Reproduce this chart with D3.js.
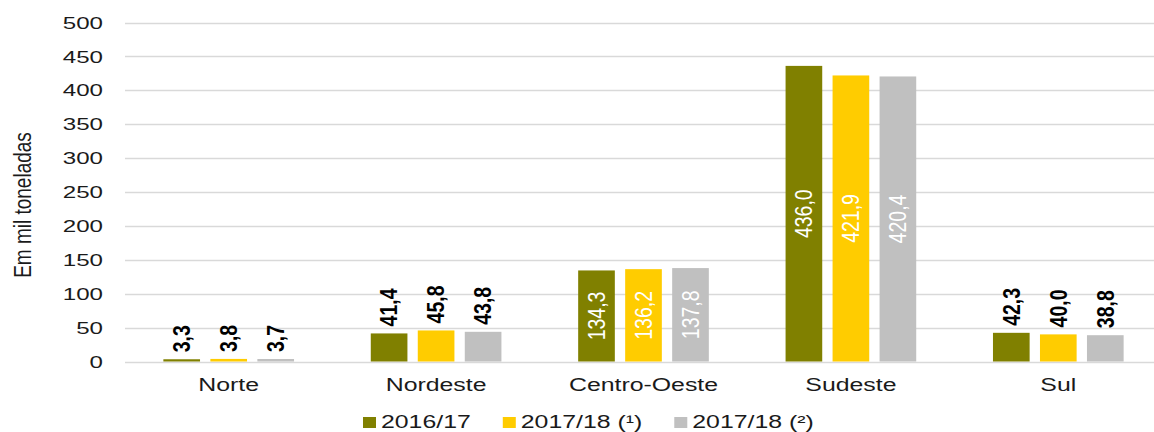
<!DOCTYPE html>
<html>
<head>
<meta charset="utf-8">
<script src="https://cdn.jsdelivr.net/npm/d3@7"></script>
<style>
  html, body { margin: 0; padding: 0; background: #fff; }
  svg { display: block; font-family: "Liberation Sans", Arial, sans-serif; }
</style>
</head>
<body>
<div class="chart"></div>
<script>
// data
const regions = ["Norte", "Nordeste", "Centro-Oeste", "Sudeste", "Sul"]
const series = ["2016/17", "2017/18 (¹)", "2017/18 (²)"]
const v2016 = [3.3, 41.4, 134.3, 436.0, 42.3]
const v2017a = [3.8, 45.8, 136.2, 421.9, 40.0]
const v2017b = [3.7, 43.8, 137.8, 420.4, 38.8]
const yTicks = [0, 50, 100, 150, 200, 250, 300, 350, 400, 450, 500]
const colours = ["#808000", "#ffcc00", "#c0c0c0"]

const width = 1154, height = 432
const sx = 1.42 // glyphs in the source picture are stretched sideways

var svg = d3.select(".chart").append("svg")
  .attr("width", width)
  .attr("height", height)

var allValues = [v2016, v2017a, v2017b]
var rows = regions.map((r, i) => ({
  region: r,
  vals: series.map((s, j) => ({ series: s, value: allValues[j][i], idx: j }))
}))

var y = d3.scaleLinear().domain([0, 500]).range([361.5, 22.5])
var x0 = d3.scaleBand().domain(regions).range([125, 1162]).paddingInner(0.37).paddingOuter(0.185)
var x1 = d3.scaleBand().domain(series).range([0, x0.bandwidth()]).paddingInner(0.22)

var fmt = v => d3.format(".1f")(v).replace(".", ",")

// gridlines
svg.append("g").selectAll("line")
  .data(yTicks)
  .enter().append("line")
  .attr("x1", 125).attr("x2", width)
  .attr("y1", d => Math.round(y(d)) + 0.5).attr("y2", d => Math.round(y(d)) + 0.5)
  .attr("stroke", "#d9d9d9")
  .attr("stroke-width", 1.5)

// y tick labels
svg.append("g").selectAll("text")
  .data(yTicks)
  .enter().append("text")
  .attr("transform", d => `translate(103,${y(d)}) scale(${sx},1)`)
  .attr("text-anchor", "end")
  .attr("dy", "0.36em")
  .attr("font-size", "17px")
  .attr("fill", "#1a1a1a")
  .text(d => d)

// y axis title
svg.append("text")
  .attr("transform", `translate(23,205) scale(1.3,1) rotate(-90)`)
  .attr("text-anchor", "middle")
  .attr("dominant-baseline", "central")
  .attr("font-size", "19px")
  .attr("fill", "#1a1a1a")
  .text("Em mil toneladas")

// bars
var groups = svg.append("g").selectAll("g")
  .data(rows)
  .enter().append("g")
  .attr("transform", d => `translate(${x0(d.region)},0)`)

groups.selectAll("rect")
  .data(d => d.vals)
  .enter().append("rect")
  .attr("x", d => x1(d.series))
  .attr("width", x1.bandwidth())
  .attr("y", d => y(d.value))
  .attr("height", d => y(0) - y(d.value))
  .attr("fill", d => colours[d.idx])

// value labels: inside for tall bars, above otherwise
groups.selectAll("text")
  .data(d => d.vals)
  .enter().append("text")
  .attr("transform", d => {
    var cx = x1(d.series) + x1.bandwidth() / 2
    var cy = d.value > 100 ? (y(d.value) + y(0)) / 2 : y(d.value) - 7
    return `translate(${cx},${cy}) scale(1.25,1) rotate(-90)`
  })
  .attr("text-anchor", d => d.value > 100 ? "middle" : "start")
  .attr("dominant-baseline", "central")
  .attr("font-size", "19.5px")
  .attr("font-weight", d => d.value > 100 ? "normal" : "bold")
  .attr("fill", d => d.value > 100 ? "#ffffff" : "#000000")
  .text(d => fmt(d.value))

// category labels
svg.append("g").selectAll("text")
  .data(regions)
  .enter().append("text")
  .attr("transform", d => `translate(${x0(d) + x0.bandwidth() / 2},391) scale(${sx},1)`)
  .attr("text-anchor", "middle")
  .attr("font-size", "17.5px")
  .attr("fill", "#1a1a1a")
  .text(d => d)

// legend
var legend = svg.append("g")
var lx = 363
series.forEach((s, i) => {
  legend.append("rect")
    .attr("x", lx).attr("y", 417)
    .attr("width", 13).attr("height", 11)
    .attr("fill", colours[i])
  var t = legend.append("text")
    .attr("transform", `translate(${lx + 18},428) scale(1.38,1)`)
    .attr("font-size", "18px")
    .attr("fill", "#1a1a1a")
    .text(s)
  lx += 18 + t.node().getComputedTextLength() * 1.38 + 32
})
</script>
</body>
</html>
